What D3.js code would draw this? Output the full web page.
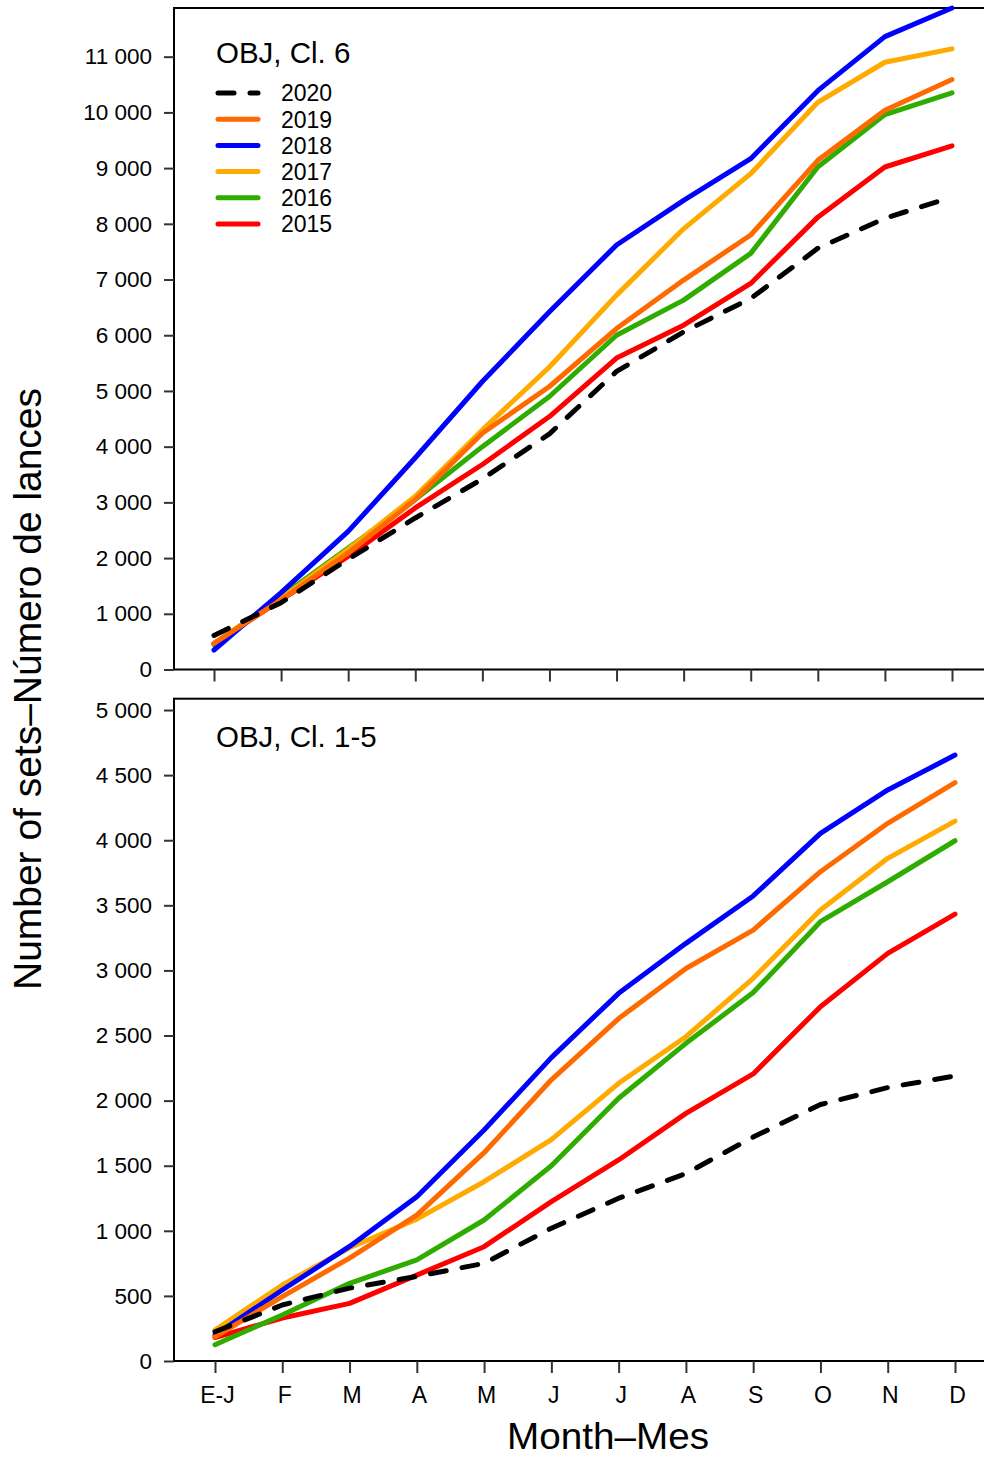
<!DOCTYPE html>
<html>
<head>
<meta charset="utf-8">
<script src="https://cdn.jsdelivr.net/npm/d3@7"></script>
<style>
  html, body { margin: 0; padding: 0; background: #fff; }
  svg { display: block; }
  text { font-family: "Liberation Sans", Arial, sans-serif; fill: #000; }
</style>
</head>
<body>
<svg id="chart" width="984" height="1458"></svg>
<script>
// ---------- data ----------
const monthLabels = ["E-J","F","M","A","M","J","J","A","S","O","N","D"];
const years = ["2020","2019","2018","2017","2016","2015"];
const yearColors = ["#000000","#FF6A00","#0000FF","#FFAA00","#2EAD00","#FF0000"];

// OBJ, Cl. 6
const top2020 = [610, 1200, 1980, 2720, 3420, 4230, 5350, 6060, 6660, 7560, 8100, 8480];
const top2019 = [470, 1250, 2090, 3050, 4240, 5080, 6120, 6990, 7800, 9140, 10040, 10590];
const top2018 = [350, 1380, 2480, 3800, 5170, 6420, 7620, 8420, 9170, 10390, 11360, 11874];
const top2017 = [470, 1280, 2160, 3110, 4300, 5430, 6720, 7910, 8900, 10180, 10900, 11140];
const top2016 = [450, 1310, 2180, 3050, 4000, 4900, 6000, 6630, 7470, 9020, 9960, 10350];
const top2015 = [460, 1250, 2030, 2900, 3680, 4540, 5590, 6180, 6930, 8120, 9020, 9400];
const topTicks = [0,1000,2000,3000,4000,5000,6000,7000,8000,9000,10000,11000];

// OBJ, Cl. 1-5
const bot2020 = [225, 430, 560, 650, 750, 1020, 1250, 1440, 1720, 1970, 2100, 2190];
const bot2019 = [185, 495, 790, 1120, 1600, 2160, 2630, 3015, 3310, 3758, 4130, 4442];
const bot2018 = [200, 545, 880, 1262, 1774, 2330, 2824, 3208, 3572, 4053, 4386, 4654];
const bot2017 = [238, 584, 870, 1090, 1377, 1700, 2133, 2491, 2939, 3464, 3861, 4147];
const bot2016 = [125, 353, 597, 776, 1083, 1500, 2018, 2440, 2830, 3374, 3681, 3996];
const bot2015 = [180, 330, 443, 660, 878, 1224, 1544, 1902, 2205, 2721, 3131, 3433];
const botTicks = [0,500,1000,1500,2000,2500,3000,3500,4000,4500,5000];

const titleTop = "OBJ, Cl. 6";
const titleBot = "OBJ, Cl. 1-5";
const xTitle = "Month\u2013Mes";
const yTitle = "Number of sets\u2013N\u00famero de lances";

// ---------- drawing ----------
const svg = d3.select("#chart");
const fmt = v => v >= 1000 ? d3.format(",")(v).replace(/,/g, " ") : String(v);

function panel(cfg) {
  const x = d3.scalePoint().domain(d3.range(12)).range(cfg.xRange);
  const y = d3.scaleLinear().domain(cfg.yDomain).range([cfg.bottom, cfg.top]);
  const g = svg.append("g");

  // frame
  g.append("rect")
    .attr("x", cfg.left).attr("y", cfg.top)
    .attr("width", cfg.right - cfg.left).attr("height", cfg.bottom - cfg.top)
    .attr("fill", "none").attr("stroke", "#000").attr("stroke-width", 2);

  // y axis
  const ya = g.append("g").attr("transform", `translate(${cfg.left},0)`)
    .call(d3.axisLeft(y).tickValues(cfg.ticks).tickSize(10).tickPadding(12).tickFormat(fmt));
  ya.select(".domain").remove();
  ya.selectAll(".tick line").attr("stroke", "#333").attr("stroke-width", 2);
  ya.selectAll(".tick text").attr("font-size", "22.5px")
    .attr("font-family", "Liberation Sans, Arial, sans-serif").attr("fill", "#000");

  // x axis
  const xa = g.append("g").attr("transform", `translate(0,${cfg.bottom})`)
    .call(d3.axisBottom(x).tickSize(12).tickPadding(12)
      .tickFormat(i => cfg.showXLabels ? monthLabels[i] : ""));
  xa.select(".domain").remove();
  xa.selectAll(".tick line").attr("stroke", "#333").attr("stroke-width", 2);
  xa.selectAll(".tick text").attr("font-size", "23px")
    .attr("font-family", "Liberation Sans, Arial, sans-serif").attr("fill", "#000")
    .attr("dx", 2).attr("dy", "0.8em");

  // lines (drawn oldest first so 2020 is on top)
  const line = d3.line().x((d, i) => x(i)).y(d => y(d));
  for (let k = cfg.series.length - 1; k >= 0; k--) {
    const p = g.append("path").datum(cfg.series[k])
      .attr("d", line).attr("fill", "none")
      .attr("stroke", yearColors[k]).attr("stroke-width", 5)
      .attr("stroke-linecap", "round").attr("stroke-linejoin", "round");
    if (k === 0) p.attr("stroke-dasharray", "16,16");
  }

  // panel title
  g.append("text").attr("x", 216).attr("y", cfg.titleY)
    .attr("font-size", "29.5px").text(cfg.title);
  return {x, y};
}

panel({
  left: 174, right: 995, top: 8, bottom: 669.5,
  xRange: [214, 952], yDomain: [0, 11874], ticks: topTicks,
  series: [top2020, top2019, top2018, top2017, top2016, top2015],
  title: titleTop, titleY: 63, showXLabels: false
});

panel({
  left: 174, right: 995, top: 698.7, bottom: 1361,
  xRange: [215, 955], yDomain: [0, 5087], ticks: botTicks,
  series: [bot2020, bot2019, bot2018, bot2017, bot2016, bot2015],
  title: titleBot, titleY: 747, showXLabels: true
});

// legend (top panel)
const leg = svg.append("g");
years.forEach((yr, i) => {
  const cy = 93 + i * 26.2;
  const l = leg.append("line").attr("x1", 218).attr("x2", 258)
    .attr("y1", cy).attr("y2", cy)
    .attr("stroke", yearColors[i]).attr("stroke-width", 5).attr("stroke-linecap", "round");
  if (i === 0) l.attr("stroke-dasharray", "16,16");
  leg.append("text").attr("x", 281).attr("y", cy + 8.3)
    .attr("font-size", "23px").text(yr);
});

// axis titles
svg.append("text").attr("x", 608).attr("y", 1449)
  .attr("text-anchor", "middle").attr("font-size", "36px")
  .attr("textLength", 202).attr("lengthAdjust", "spacingAndGlyphs").text(xTitle);

svg.append("text")
  .attr("transform", "translate(41,689) rotate(-90)")
  .attr("text-anchor", "middle").attr("font-size", "38.5px")
  .attr("textLength", 602).attr("lengthAdjust", "spacingAndGlyphs")
  .text(yTitle);
</script>
</body>
</html>
